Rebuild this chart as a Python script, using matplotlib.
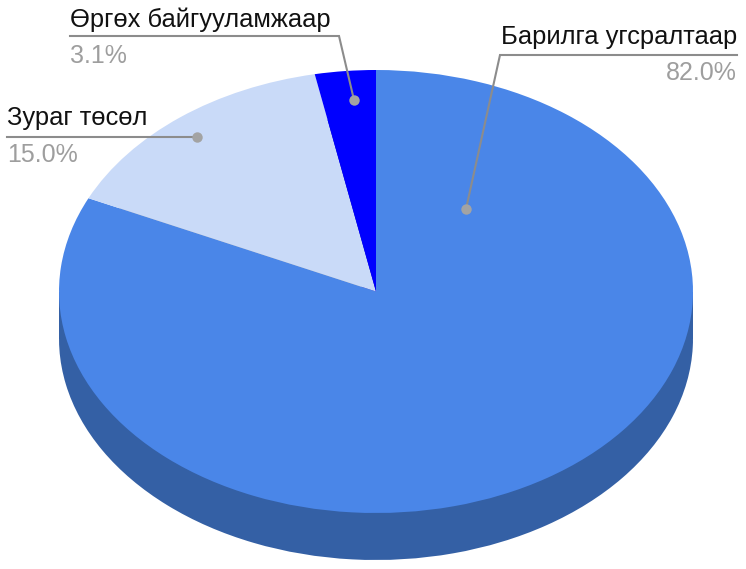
import matplotlib
matplotlib.use("Agg")
import matplotlib.pyplot as plt
from matplotlib.patches import Rectangle

plt.rcParams['font.family'] = ['Liberation Sans', 'DejaVu Sans']

labels = ["Барилга угсралтаар", "Зураг төсөл", "Өргөх байгууламжаар"]
values = [82.0, 15.0, 3.1]
value_labels = ["82.0%", "15.0%", "3.1%"]
colors = ["#4a86e8", "#c9daf8", "#0000ff"]
side_colors = ["#3460a5", "#8d99ae", "#0000b3"]

W = 746
H = 569
cx = 376
cy = 291.5
rx = 317
ry = 221.5
depth = 47


# picture pixels to data units
def px(x, y):
    return (x - cx) / rx, (cy - y) / ry


fig = plt.figure(figsize=(W / 100, H / 100), dpi=100)
ax = fig.add_axes([0, 0, 1, 1])

# side of the disc first, the top goes over it
d = depth / ry
ax.pie(values, colors=side_colors, startangle=90, counterclock=False, center=(0, -d), radius=1)
ax.add_patch(Rectangle((-1, -d), 2, d, color=side_colors[0], lw=0))
ax.pie(values, colors=colors, startangle=90, counterclock=False, center=(0, 0), radius=1)

# stretch the circle to the ellipse of the reference
ax.set_aspect("auto")
ax.set_xlim(px(0, 0)[0], px(W, 0)[0])
ax.set_ylim(px(0, H)[1], px(0, 0)[1])
ax.axis("off")

line_color = "#8c8c8c"
dot_color = "#a3a3a3"
value_color = "#9e9e9e"
fs = 18.4
fs_value = 18

leaders = [
    [(737, 55), (500, 55), (466, 209)],
    [(7, 137), (197, 137)],
    [(70, 36), (339, 36), (354, 100)],
]
text_pos = [(737, 44, 80, "right"), (7, 125, 162, "left"), (70, 27, 63, "left")]

for i in range(3):
    pts = [px(*p) for p in leaders[i]]
    ax.plot([p[0] for p in pts], [p[1] for p in pts], color=line_color, lw=1.5, solid_joinstyle="miter", zorder=5)
    ax.plot(pts[-1][0], pts[-1][1], "o", color=dot_color, ms=7.5, mew=0, zorder=6)
    x, y1, y2, ha = text_pos[i]
    ax.text(*px(x, y1), labels[i], fontsize=fs, color="#111111", ha=ha, va="baseline", zorder=7)
    ax.text(*px(x, y2), value_labels[i], fontsize=fs_value, color=value_color, ha=ha, va="baseline", zorder=7)

fig.savefig("out.png", dpi=100)
